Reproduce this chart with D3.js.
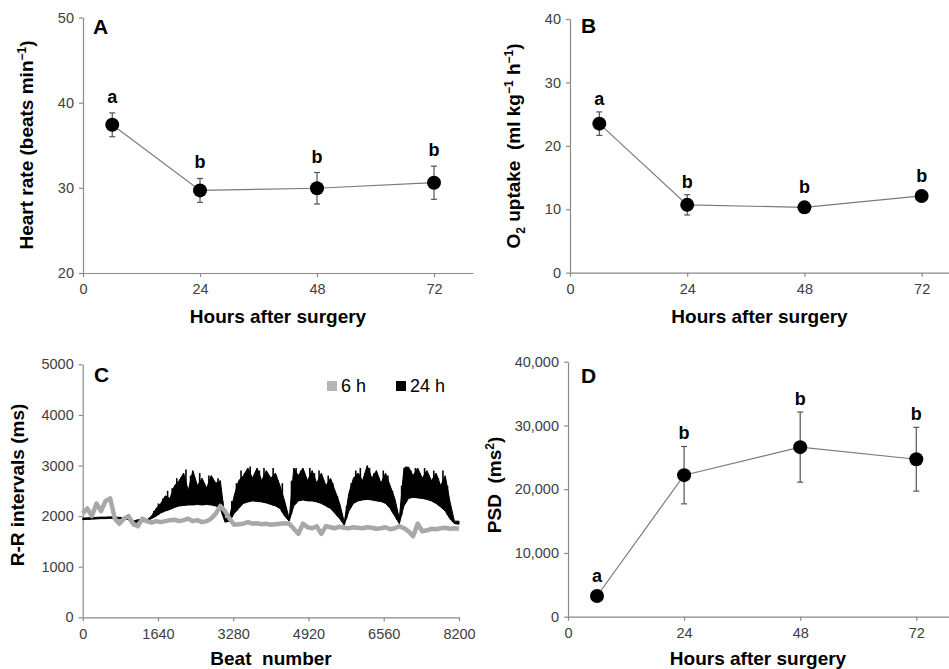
<!DOCTYPE html>
<html><head><meta charset="utf-8">
<script src="https://cdn.jsdelivr.net/npm/d3@7"></script>
<style>
body{margin:0;background:#fff}
svg{display:block}
text{font-family:"Liberation Sans",Arial,sans-serif}
</style>
</head><body>
<svg id="chart" width="949" height="669"></svg>
<script>
// ---------- data ----------
const hours = [6, 24, 48, 72];
const hourTicks = [0, 24, 48, 72];

const heartRate = [37.4, 29.7, 29.95, 30.6];
const heartRateErr = [1.4, 1.4, 1.85, 1.95];
const heartRateLetters = ["a", "b", "b", "b"];
const heartRateTicks = [20, 30, 40, 50];

const o2Uptake = [23.5, 10.7, 10.3, 12.1];
const o2UptakeErr = [1.85, 1.6, 0.4, 0.4];
const o2Letters = ["a", "b", "b", "b"];
const o2Ticks = [0, 10, 20, 30, 40];

const psd = [3250, 22200, 26600, 24700];
const psdErr = [400, 4500, 5500, 5000];
const psdLetters = ["a", "b", "b", "b"];
const psdTicks = [0, 10000, 20000, 30000, 40000];

const beatTicks = [0, 1640, 3280, 4920, 6560, 8200];
const rrTicks = [0, 1000, 2000, 3000, 4000, 5000];
// beat numbers of the samples (every 100 beats)
const beats = d3.range(0, 8201, 100);
// 24 h recording: lower and upper envelope of the R-R trace body (ms)
const rr24Lo = [
 1930,1935,1940,1945,1950,1950,1955,1950,1945,1940,
 1930,1800,1900,1890,1900,1950,2000,2060,2100,2130,
 2170,2200,2210,2220,2220,2230,2220,2230,2220,2200,
 2150,1880,1900,2050,2150,2250,2280,2300,2290,2280,
 2260,2230,2200,2150,2000,1900,2200,2300,2320,2300,
 2300,2280,2250,2200,2150,2050,1950,1820,2100,2250,
 2300,2320,2330,2320,2300,2290,2250,2150,2000,1850,
 2200,2350,2370,2360,2350,2330,2300,2250,2180,2100,
 1950,1850,1840];
const rr24Hi = [
 1960,1965,1970,1975,1980,1980,1985,1980,1975,1970,
 1960,1900,1930,1920,1930,2000,2150,2250,2400,2350,
 2600,2700,2850,2500,2900,2600,2750,2550,2800,2650,
 2700,1950,1980,2400,2700,2800,2950,2750,2950,2700,
 2900,2750,2850,2600,2300,1950,2950,2800,2950,2700,
 2900,2650,2850,2600,2750,2500,2250,1880,2450,2750,
 2850,2700,3000,2750,2900,2650,2850,2600,2350,1950,
 2950,2970,2800,2950,2750,2900,2700,2850,2600,2800,
 2300,1900,1900];
// 24 h recording: spike tops between samples (beats 50, 150, ... 8150)
const rr24Spike = [
 1960,1960,1960,1960,1960,1960,1960,1960,1960,1960,
 1950,1920,1930,1920,1940,2100,2250,2350,2500,2550,
 2750,2650,2920,2800,2700,2850,2650,2800,2600,2750,
 2300,1950,2300,2650,2900,2850,2980,2850,2900,2950,
 2800,2950,2700,2650,2000,2700,2950,2900,2800,2950,
 2850,2900,2700,2800,2650,2400,2000,2200,2650,2900,
 2950,2850,2950,2850,2750,2900,2800,2500,2100,2600,
 2980,2900,2950,2850,2950,2800,2900,2750,2900,2600,
 2000,1900];
// 6 h recording (ms)
const rr6 = [
 2050,2150,2000,2250,2100,2300,2350,1950,1850,1950,
 2000,1850,1800,1950,1900,1870,1900,1880,1900,1920,
 1930,1900,1920,1950,1900,1920,1880,1900,1950,2050,
 2200,2100,1950,1830,1840,1850,1880,1850,1860,1840,
 1850,1830,1840,1850,1860,1850,1750,1650,1850,1780,
 1760,1800,1650,1800,1780,1760,1790,1770,1760,1780,
 1770,1760,1780,1770,1750,1760,1780,1740,1760,1800,
 1760,1700,1600,1850,1700,1720,1750,1740,1760,1770,
 1750,1760,1750];
const legendItems = ["6 h", "24 h"];

// ---------- styles ----------
const AXIS = "#8a8a8a", TICKTXT = "#404040", LINE = "#7a7a7a";
const svg = d3.select("#chart");

function axes(g, x, y, xt, yt, yfmt) {
  const ax = g.append("g").attr("transform", `translate(0,${y.range()[0]})`)
    .call(d3.axisBottom(x).tickValues(xt).tickSize(4).tickPadding(7).tickSizeOuter(0).tickFormat(d3.format("d")));
  const ay = g.append("g").attr("transform", `translate(${x.range()[0]},0)`)
    .call(d3.axisLeft(y).tickValues(yt).tickSize(4).tickPadding(5).tickSizeOuter(0).tickFormat(yfmt || d3.format("d")));
  [ax, ay].forEach(a => {
    a.selectAll("path,line").attr("stroke", AXIS).attr("stroke-width", 1.2);
    a.selectAll("text").attr("fill", TICKTXT).style("font-size", "14.5px")
      .style("font-family", '"Liberation Sans",Arial,sans-serif');
  });
}

function yTitle(x, yc, parts) {
  const t = svg.append("text").attr("transform", `translate(${x},${yc}) rotate(-90)`)
    .attr("text-anchor", "middle").style("font-size", "19px").style("font-weight", "bold")
    .style("white-space", "pre").attr("fill", "#000");
  parts.forEach(p => {
    const s = t.append("tspan").text(p.t);
    if (p.sup) s.style("font-size", "12px").attr("dy", -7);
    if (p.sub) s.style("font-size", "12px").attr("dy", 5);
    if (p.back) s.attr("dy", p.back);
  });
  return t;
}
function xTitle(xc, y, txt) {
  svg.append("text").attr("x", xc).attr("y", y).attr("text-anchor", "middle")
    .style("font-size", "19px").style("font-weight", "bold").style("white-space", "pre")
    .attr("fill", "#000").text(txt);
}
function panelLetter(x, y, t) {
  svg.append("text").attr("x", x).attr("y", y).style("font-size", "21px")
    .style("font-weight", "bold").attr("fill", "#000").text(t);
}

function pointPanel(o) {
  const g = svg.append("g");
  const x = d3.scaleLinear().domain([0, 80]).range(o.xr);
  const y = d3.scaleLinear().domain(o.yd).range(o.yr);
  axes(g, x, y, hourTicks, o.yt, o.yfmt);
  const pts = hours.map((h, i) => ({h, v: o.vals[i], e: o.errs[i], l: o.letters[i]}));
  g.append("path").datum(pts).attr("fill", "none").attr("stroke", LINE).attr("stroke-width", 1.2)
    .attr("d", d3.line().x(d => x(d.h)).y(d => y(d.v)));
  const eb = g.selectAll(".eb").data(pts).enter().append("g");
  eb.append("line").attr("x1", d => x(d.h)).attr("x2", d => x(d.h))
    .attr("y1", d => y(d.v - d.e)).attr("y2", d => y(d.v + d.e)).attr("stroke", "#555").attr("stroke-width", 1.2);
  [-1, 1].forEach(s => eb.append("line").attr("x1", d => x(d.h) - 3).attr("x2", d => x(d.h) + 3)
    .attr("y1", d => y(d.v + s * d.e)).attr("y2", d => y(d.v + s * d.e)).attr("stroke", "#555").attr("stroke-width", 1.2));
  g.selectAll(".pt").data(pts).enter().append("circle").attr("cx", d => x(d.h)).attr("cy", d => y(d.v))
    .attr("r", 7).attr("fill", "#000");
  g.selectAll(".lt").data(pts).enter().append("text").attr("x", d => x(d.h))
    .attr("y", d => Math.min(y(d.v + d.e), y(d.v) - 7) - o.gap).attr("text-anchor", "middle")
    .style("font-size", "18px").style("font-weight", "bold").attr("fill", "#000").text(d => d.l);
}

// Panel A
pointPanel({xr: [83, 473], yd: [20, 50], yr: [273, 17.5], yt: heartRateTicks,
  vals: heartRate, errs: heartRateErr, letters: heartRateLetters, gap: 10});
yTitle(33, 145, [{t: "Heart rate (beats min"}, {t: "\u22121", sup: true}, {t: ")", back: 7}]);
xTitle(278, 323, "Hours after surgery");
panelLetter(93, 34, "A");

// Panel B
pointPanel({xr: [570, 960.7], yd: [0, 40], yr: [272.7, 19], yt: o2Ticks,
  vals: o2Uptake, errs: o2UptakeErr, letters: o2Letters, gap: 7});
yTitle(520, 146, [{t: "O"}, {t: "2", sub: true}, {t: " uptake  (ml kg", back: -5}, {t: "\u22121", sup: true},
  {t: " h", back: 7}, {t: "\u22121", sup: true}, {t: ")", back: 7}]);
xTitle(759.5, 323, "Hours after surgery");
panelLetter(581, 33, "B");

// Panel D
pointPanel({xr: [568, 955], yd: [0, 40000], yr: [616.7, 361.7], yt: psdTicks, yfmt: d3.format(","),
  vals: psd, errs: psdErr, letters: psdLetters, gap: 7});
yTitle(501, 485, [{t: "PSD  (ms"}, {t: "2", sup: true}, {t: ")", back: 7}]);
xTitle(758, 665, "Hours after surgery");
panelLetter(581, 383, "D");

// Panel C
{
  const g = svg.append("g");
  const x = d3.scaleLinear().domain([0, 8200]).range([82.7, 459]);
  const y = d3.scaleLinear().domain([0, 5000]).range([617.3, 364.3]);
  axes(g, x, y, beatTicks, rrTicks);
  const zz = beats.map((b, i) => ({b, lo: rr24Lo[i], hi: rr24Hi[i]}));
  g.append("path").datum(zz).attr("fill", "#000").attr("stroke", "#000").attr("stroke-width", 1)
    .attr("d", d3.area().x(d => x(d.b)).y0(d => y(d.lo)).y1(d => y(d.hi)));
  // spikes between samples
  const sp = rr24Spike.map((v, i) => ({b: beats[i] + 50, top: v, base: (rr24Lo[i] + rr24Lo[i + 1]) / 2}));
  g.selectAll(".sp").data(sp).enter().append("line")
    .attr("x1", d => x(d.b)).attr("x2", d => x(d.b))
    .attr("y1", d => y(d.base)).attr("y2", d => y(d.top))
    .attr("stroke", "#000").attr("stroke-width", 1.6);
  g.append("path").datum(beats.map((b, i) => ({b, v: rr6[i]}))).attr("fill", "none")
    .attr("stroke", "#a8a8a8").attr("stroke-width", 4.5).attr("stroke-linejoin", "round")
    .attr("d", d3.line().x(d => x(d.b)).y(d => y(d.v)));
  // legend
  const lg = svg.append("g");
  const lx = [327, 396], col = ["#b4b4b4", "#000"];
  legendItems.forEach((t, i) => {
    lg.append("rect").attr("x", lx[i]).attr("y", 381).attr("width", 10).attr("height", 10).attr("fill", col[i]);
    lg.append("text").attr("x", lx[i] + 14).attr("y", 392).style("font-size", "18px").attr("fill", "#000").text(t);
  });
  yTitle(24, 485, [{t: "R-R intervals (ms)"}]);
  xTitle(271, 665, "Beat  number");
  panelLetter(94, 382, "C");
}
</script>
</body></html>
